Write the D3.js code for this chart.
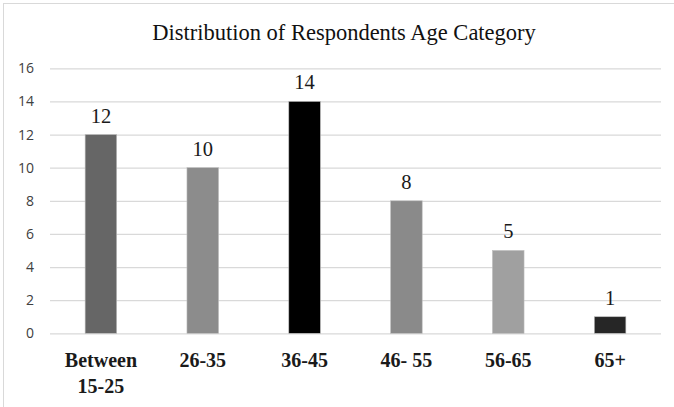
<!DOCTYPE html>
<html>
<head>
<meta charset="utf-8">
<script src="https://cdn.jsdelivr.net/npm/d3@7"></script>
<style>
  html, body { margin: 0; padding: 0; background: #fff; }
  svg { display: block; }
</style>
</head>
<body>
<svg id="chart" width="674" height="407"></svg>
<script>
// Age groups and respondent counts
const categories = ["Between\n15-25", "26-35", "36-45", "46- 55", "56-65", "65+"];
const counts = [12, 10, 14, 8, 5, 1];
const barColors = ["#666666", "#8c8c8c", "#000000", "#8a8a8a", "#a0a0a0", "#262626"];
const yTicks = [0, 2, 4, 6, 8, 10, 12, 14, 16];
const title = "Distribution of Respondents Age Category";

const W = 674, H = 407;
const plot = { left: 50, right: 661, top: 68.3, bottom: 333.3 };

const svg = d3.select("#chart");

// frame
svg.append("rect")
  .attr("x", 3.5).attr("y", 3.5)
  .attr("width", W + 10).attr("height", H + 10)
  .attr("fill", "#fff").attr("stroke", "#d9d9d9").attr("stroke-width", 1);

const x = d3.scaleBand()
  .domain(categories)
  .range([plot.left, plot.right])
  .paddingInner(0.69)
  .paddingOuter(0.345);

const y = d3.scaleLinear()
  .domain([0, 16])
  .range([plot.bottom, plot.top]);

// title
svg.append("text")
  .attr("x", 344).attr("y", 40)
  .attr("text-anchor", "middle")
  .attr("font-family", "'Liberation Serif', 'Times New Roman', serif")
  .attr("font-size", 22.5)
  .attr("fill", "#111")
  .text(title);

// gridlines and y labels
const yAxis = d3.axisLeft(y)
  .tickValues(yTicks)
  .tickSize(-(plot.right - plot.left))
  .tickPadding(16);

const gy = svg.append("g")
  .attr("transform", `translate(${plot.left},0)`)
  .call(yAxis);
gy.select(".domain").remove();
gy.selectAll(".tick line").attr("stroke", "#d9d9d9").attr("stroke-width", 1.2);
gy.selectAll(".tick text")
  .attr("font-family", "'Open Sans', 'Noto Sans', sans-serif")
  .attr("font-size", 14)
  .attr("fill", "#404040");

// bars
svg.append("g").selectAll("rect")
  .data(counts)
  .join("rect")
  .attr("x", (d, i) => x(categories[i]))
  .attr("y", d => y(d))
  .attr("width", x.bandwidth())
  .attr("height", d => y(0) - y(d))
  .attr("fill", (d, i) => barColors[i])
  .attr("stroke", "#bdbdbd")
  .attr("stroke-width", 0.6);

// value labels
svg.append("g").selectAll("text")
  .data(counts)
  .join("text")
  .attr("x", (d, i) => x(categories[i]) + x.bandwidth() / 2)
  .attr("y", d => y(d) - 12)
  .attr("text-anchor", "middle")
  .attr("font-family", "'Liberation Serif', 'Times New Roman', serif")
  .attr("font-size", 20.5)
  .attr("fill", "#1a1a1a")
  .text(d => d);

// category labels
const xAxis = d3.axisBottom(x).tickSize(0).tickFormat("");
const gx = svg.append("g")
  .attr("transform", `translate(0,${plot.bottom})`)
  .call(xAxis);
gx.select(".domain").remove();
gx.selectAll(".tick").each(function(d) {
  const lines = d.split("\n");
  const t = d3.select(this).append("text")
    .attr("text-anchor", "middle")
    .attr("font-family", "'Liberation Serif', 'Times New Roman', serif")
    .attr("font-weight", "bold")
    .attr("font-size", 20)
    .attr("fill", "#1a1a1a");
  lines.forEach((ln, k) => {
    t.append("tspan").attr("x", 0).attr("y", 33.5 + k * 26.5).text(ln);
  });
});
</script>
</body>
</html>
